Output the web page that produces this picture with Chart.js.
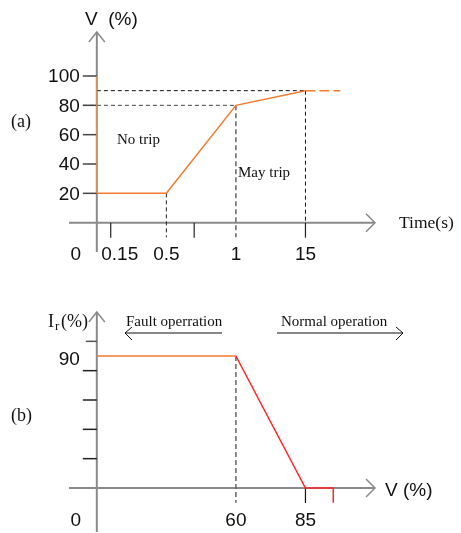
<!DOCTYPE html>
<html>
<head>
<meta charset="utf-8">
<script src="https://cdn.jsdelivr.net/npm/chart.js@4.4.1/dist/chart.umd.min.js"></script>
<style>
  body { margin: 0; background: #fff; width: 461px; height: 533px; overflow: hidden; }
  canvas { display: block; }
</style>
</head>
<body>
<canvas id="chartA" width="461" height="280"></canvas>
<canvas id="chartB" width="461" height="253"></canvas>
<script>
/* ===== DATA (a) trip curve ===== */
const timeTicks = [0, 0.15, 0.5, 1, 15];
const timeLabels = ["0", "0.15", "0.5", "1", "15"];
const extraTimeTick = 0.7;
const tripTime = [0, 0, 0.5, 1, 15];
const tripVolt = [100, 20, 20, 80, 90];
const voltTicks = [20, 40, 60, 80, 100];

/* ===== DATA (b) reactive current ===== */
const vTicks = [0, 60, 85];
const vLabels = ["0", "60", "85"];
const irVolt = [0, 60];
const irValue = [90, 90];
const dropVolt = [60, 85];
const dropValue = [90, 0];
const irTicks = [20, 40, 60, 80, 100];
const irLabel = 90;

const SANS = '"Liberation Sans", Arial, sans-serif';
const SERIF = '"Liberation Serif", "Times New Roman", serif';
const ORANGE = "#f47a2e";
const RED = "#ff2626";
const AXIS = "#8a8a8a";

// the axes are schematic: each tick value sits on its own spot
const timeSpots = [0, 0.2, 1, 2, 3];
const vSpots = [0, 2, 3];
function spot(v, vals, spots) {
  for (let i = 1; i < vals.length; i++) {
    if (v <= vals[i]) {
      let f = (v - vals[i - 1]) / (vals[i] - vals[i - 1]);
      return spots[i - 1] + f * (spots[i] - spots[i - 1]);
    }
  }
  return spots[spots.length - 1];
}
const tx = (t) => spot(t, timeTicks, timeSpots);
const vx = (v) => spot(v, vTicks, vSpots);

function pts(xs, ys, f) {
  return xs.map((x, i) => ({ x: f(x), y: ys[i] }));
}

function line(data, color, width, dash) {
  return {
    data: data,
    showLine: true,
    borderColor: color,
    borderWidth: width,
    borderDash: dash || [],
    pointRadius: 0,
    fill: false,
  };
}

function seg(ctx, x1, y1, x2, y2) {
  ctx.beginPath();
  ctx.moveTo(x1, y1);
  ctx.lineTo(x2, y2);
  ctx.stroke();
}

function drawAxes(chart) {
  const ctx = chart.ctx;
  const a = chart.chartArea;
  const x0 = chart.scales.x.getPixelForValue(0);
  const y0 = chart.scales.y.getPixelForValue(0);
  ctx.save();
  ctx.strokeStyle = AXIS;
  ctx.lineWidth = 2;
  seg(ctx, x0, a.bottom, x0, a.top);
  seg(ctx, a.left, y0, a.right, y0);
  ctx.lineWidth = 1.5;
  ctx.beginPath();
  ctx.moveTo(x0 - 8, a.top + 10);
  ctx.lineTo(x0, a.top);
  ctx.lineTo(x0 + 8, a.top + 10);
  ctx.moveTo(a.right - 9, y0 - 9);
  ctx.lineTo(a.right, y0);
  ctx.lineTo(a.right - 9, y0 + 9);
  ctx.stroke();
  ctx.restore();
}

function yTicks(chart, ticks, color) {
  const ctx = chart.ctx;
  const x0 = chart.scales.x.getPixelForValue(0);
  ctx.save();
  ctx.strokeStyle = color;
  ctx.lineWidth = 1.5;
  ticks.forEach((v) => {
    const y = chart.scales.y.getPixelForValue(v);
    seg(ctx, x0 - 14, y, x0, y);
  });
  ctx.restore();
}

function xTick(chart, xv, color) {
  const ctx = chart.ctx;
  const y0 = chart.scales.y.getPixelForValue(0);
  const x = chart.scales.x.getPixelForValue(xv);
  ctx.save();
  ctx.strokeStyle = color;
  ctx.lineWidth = 1.2;
  seg(ctx, x, y0, x, y0 + 15);
  ctx.restore();
}

function text(ctx, s, x, y, font, align) {
  ctx.font = font;
  ctx.textAlign = align || "left";
  ctx.textBaseline = "middle";
  ctx.fillStyle = "#111";
  ctx.fillText(s, x, y);
}

/* ===== CHART (a) ===== */
const decorA = {
  id: "decorA",
  beforeDatasetsDraw(chart) {
    drawAxes(chart);
    yTicks(chart, voltTicks, "#444");
    xTick(chart, tx(0.15), "#222");
    xTick(chart, tx(extraTimeTick), "#222");
    xTick(chart, tx(15), "#222");
  },
  afterDraw(chart) {
    const ctx = chart.ctx;
    const sx = chart.scales.x, sy = chart.scales.y;
    const x0 = sx.getPixelForValue(0);
    const y0 = sy.getPixelForValue(0);
    ctx.save();
    voltTicks.forEach((v) => {
      text(ctx, String(v), x0 - 17, sy.getPixelForValue(v) + 1, "19px " + SANS, "right");
    });
    timeTicks.forEach((t, i) => {
      let x = sx.getPixelForValue(tx(t));
      if (i === 0) x = x0 - 21;
      if (i === 1) x += 9;
      text(ctx, timeLabels[i], x, y0 + 32, "19px " + SANS, "center");
    });
    text(ctx, "V  (%)", 85, 20, "19px " + SANS);
    text(ctx, "Time(s)", 399, y0 + 1, "17.5px " + SERIF);
    text(ctx, "(a)", 11, 122, "18px " + SERIF);
    text(ctx, "No trip", 117, 140, "15px " + SERIF);
    text(ctx, "May trip", 238, 173, "15px " + SERIF);
    ctx.restore();
  },
};

const tripLine = line(pts(tripTime, tripVolt, tx), ORANGE, 1.5);
// the vertical part lies on the axis and looks paler there
tripLine.segment = {
  borderColor: (c) => (c.p0DataIndex === 0 ? "rgba(240,150,90,0.75)" : undefined),
};

new Chart(document.getElementById("chartA"), {
  type: "scatter",
  data: {
    datasets: [
      tripLine,
      line([{ x: tx(15), y: 90 }, { x: tx(15) + 0.5, y: 90 }], ORANGE, 1.5, [10, 4]),
      line([{ x: 0, y: 90 }, { x: tx(15), y: 90 }], "#111", 1, [4, 3]),
      line([{ x: -0.2, y: 80 }, { x: tx(1), y: 80 }], "#444", 1, [4, 3]),
      line([{ x: tx(0.5), y: 20 }, { x: tx(0.5), y: -10 }], "#222", 1, [4, 3]),
      line([{ x: tx(1), y: 80 }, { x: tx(1), y: -10 }], "#666", 1.5, [5, 3]),
      line([{ x: tx(15), y: 90 }, { x: tx(15), y: 0 }], "#111", 1, [4, 3]),
    ],
  },
  options: {
    responsive: false,
    animation: false,
    layout: { padding: { left: 69, right: 86, top: 32, bottom: 28 } },
    plugins: { legend: { display: false }, tooltip: { enabled: false } },
    scales: {
      x: { type: "linear", min: -0.4, max: 4.0, display: false },
      y: { type: "linear", min: -20, max: 130, display: false },
    },
  },
  plugins: [decorA],
});

/* ===== CHART (b) ===== */
const decorB = {
  id: "decorB",
  beforeDatasetsDraw(chart) {
    const ctx = chart.ctx;
    drawAxes(chart);
    yTicks(chart, irTicks.slice(0, -1), "#222");
    const x0 = chart.scales.x.getPixelForValue(0);
    const yTop = chart.scales.y.getPixelForValue(irTicks[irTicks.length - 1]);
    ctx.save();
    ctx.strokeStyle = "#555";
    ctx.lineWidth = 1.5;
    seg(ctx, x0 - 11, yTop, x0, yTop);
    ctx.restore();
    xTick(chart, vx(85), "#111");
  },
  afterDraw(chart) {
    const ctx = chart.ctx;
    const sx = chart.scales.x, sy = chart.scales.y;
    const x0 = sx.getPixelForValue(0);
    const y0 = sy.getPixelForValue(0);
    ctx.save();
    text(ctx, String(irLabel), x0 - 17, sy.getPixelForValue(irLabel) + 4, "19px " + SANS, "right");
    vTicks.forEach((v, i) => {
      let x = sx.getPixelForValue(vx(v));
      if (i === 0) x = x0 - 21;
      text(ctx, vLabels[i], x, y0 + 33, "19px " + SANS, "center");
    });
    text(ctx, "V (%)", 385, y0 + 3, "19px " + SANS);
    text(ctx, "(b)", 11, 136, "18px " + SERIF);
    // I_r(%)
    text(ctx, "I", 48, 42, "18px " + SERIF);
    text(ctx, "r", 55, 47, "13px " + SERIF);
    text(ctx, "(%)", 61, 42, "18px " + SERIF);
    text(ctx, "Fault operration", 126, 42, "15px " + SERIF);
    text(ctx, "Normal operation", 281, 42, "15px " + SERIF);
    ctx.strokeStyle = "#111";
    ctx.lineWidth = 1;
    ctx.beginPath();
    ctx.moveTo(222, 53); ctx.lineTo(125, 53);
    ctx.moveTo(132, 47); ctx.lineTo(125, 53); ctx.lineTo(132, 60);
    ctx.moveTo(277, 53); ctx.lineTo(403, 53);
    ctx.moveTo(396, 47); ctx.lineTo(403, 53); ctx.lineTo(396, 60);
    ctx.stroke();
    ctx.restore();
  },
};

new Chart(document.getElementById("chartB"), {
  type: "scatter",
  data: {
    datasets: [
      line(pts(irVolt, irValue, vx), ORANGE, 1.5),
      line(pts(dropVolt, dropValue, vx)
        .concat([{ x: vx(85) + 0.4, y: 0 }, { x: vx(85) + 0.4, y: -10 }]), RED, 1.5),
      line([{ x: vx(60), y: 90 }, { x: vx(60), y: -10 }], "#666", 1.5, [5, 3]),
    ],
  },
  options: {
    responsive: false,
    animation: false,
    layout: { padding: { left: 69, right: 86, top: 32, bottom: 1 } },
    plugins: { legend: { display: false }, tooltip: { enabled: false } },
    scales: {
      x: { type: "linear", min: -0.4, max: 4.0, display: false },
      y: { type: "linear", min: -30, max: 120, display: false },
    },
  },
  plugins: [decorB],
});
</script>
</body>
</html>
